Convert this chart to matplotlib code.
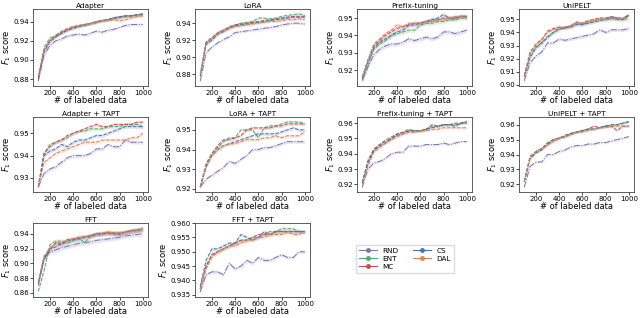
import matplotlib
matplotlib.use("Agg")
import matplotlib.pyplot as plt
from matplotlib.lines import Line2D
import numpy as np

x = [100, 150, 200, 250, 300, 350, 400, 450, 500, 550, 600, 650, 700, 750, 800, 850, 900, 950, 1000]
methods = ["RND", "ENT", "MC", "CS", "DAL"]
colors = {"RND": "#8172b3", "ENT": "#55a868", "MC": "#c44e52", "CS": "#4c72b0", "DAL": "#dd8452"}

titles = ["Adapter", "LoRA", "Prefix-tuning", "UniPELT",
          "Adapter + TAPT", "LoRA + TAPT", "Prefix-tuning + TAPT", "UniPELT + TAPT",
          "FFT", "FFT + TAPT"]

adapter = {
    "RND": [0.878, 0.905, 0.915, 0.920, 0.922, 0.925, 0.926, 0.927, 0.926, 0.928, 0.930, 0.929, 0.931, 0.932, 0.934, 0.936, 0.937, 0.937, 0.937],
    "ENT": [0.882, 0.913, 0.923, 0.925, 0.928, 0.931, 0.934, 0.935, 0.937, 0.938, 0.940, 0.941, 0.942, 0.943, 0.944, 0.945, 0.946, 0.947, 0.947],
    "MC":  [0.882, 0.910, 0.920, 0.925, 0.929, 0.932, 0.934, 0.936, 0.937, 0.938, 0.940, 0.941, 0.942, 0.944, 0.945, 0.946, 0.946, 0.947, 0.948],
    "CS":  [0.880, 0.908, 0.919, 0.924, 0.928, 0.931, 0.933, 0.935, 0.936, 0.938, 0.939, 0.941, 0.942, 0.944, 0.945, 0.946, 0.946, 0.947, 0.948],
    "DAL": [0.883, 0.911, 0.921, 0.926, 0.930, 0.933, 0.935, 0.936, 0.937, 0.938, 0.940, 0.941, 0.941, 0.942, 0.941, 0.942, 0.944, 0.945, 0.946],
}
lora = {
    "RND": [0.872, 0.905, 0.912, 0.917, 0.921, 0.924, 0.929, 0.930, 0.931, 0.932, 0.933, 0.934, 0.935, 0.936, 0.938, 0.939, 0.940, 0.940, 0.939],
    "ENT": [0.878, 0.917, 0.922, 0.928, 0.932, 0.936, 0.938, 0.940, 0.941, 0.942, 0.946, 0.946, 0.945, 0.946, 0.948, 0.949, 0.950, 0.951, 0.949],
    "MC":  [0.880, 0.918, 0.923, 0.929, 0.932, 0.935, 0.938, 0.939, 0.940, 0.941, 0.942, 0.943, 0.944, 0.945, 0.946, 0.947, 0.948, 0.948, 0.948],
    "CS":  [0.878, 0.915, 0.920, 0.927, 0.930, 0.934, 0.937, 0.938, 0.939, 0.940, 0.941, 0.942, 0.943, 0.944, 0.945, 0.946, 0.947, 0.947, 0.947],
    "DAL": [0.880, 0.916, 0.922, 0.928, 0.931, 0.934, 0.936, 0.937, 0.938, 0.939, 0.940, 0.941, 0.942, 0.942, 0.943, 0.944, 0.944, 0.945, 0.944],
}
prefix = {
    "RND": [0.914, 0.922, 0.929, 0.932, 0.934, 0.935, 0.935, 0.936, 0.938, 0.937, 0.938, 0.939, 0.938, 0.939, 0.942, 0.942, 0.941, 0.942, 0.943],
    "ENT": [0.914, 0.923, 0.932, 0.935, 0.937, 0.940, 0.941, 0.942, 0.943, 0.943, 0.946, 0.947, 0.947, 0.948, 0.948, 0.949, 0.949, 0.950, 0.950],
    "MC":  [0.916, 0.926, 0.934, 0.937, 0.940, 0.942, 0.944, 0.945, 0.946, 0.947, 0.947, 0.948, 0.949, 0.949, 0.950, 0.950, 0.950, 0.951, 0.951],
    "CS":  [0.915, 0.925, 0.933, 0.936, 0.938, 0.940, 0.942, 0.943, 0.946, 0.946, 0.947, 0.948, 0.949, 0.950, 0.952, 0.950, 0.950, 0.951, 0.951],
    "DAL": [0.916, 0.926, 0.935, 0.938, 0.941, 0.943, 0.946, 0.945, 0.947, 0.947, 0.947, 0.948, 0.948, 0.949, 0.949, 0.950, 0.951, 0.951, 0.950],
}
unipelt = {
    "RND": [0.903, 0.917, 0.922, 0.925, 0.932, 0.932, 0.935, 0.934, 0.935, 0.936, 0.937, 0.938, 0.939, 0.942, 0.940, 0.942, 0.942, 0.942, 0.943],
    "ENT": [0.906, 0.922, 0.929, 0.932, 0.937, 0.940, 0.942, 0.944, 0.945, 0.947, 0.946, 0.948, 0.949, 0.950, 0.950, 0.952, 0.951, 0.951, 0.953],
    "MC":  [0.907, 0.925, 0.931, 0.934, 0.941, 0.943, 0.944, 0.943, 0.945, 0.948, 0.947, 0.949, 0.950, 0.951, 0.951, 0.952, 0.951, 0.950, 0.953],
    "CS":  [0.907, 0.921, 0.928, 0.932, 0.936, 0.940, 0.943, 0.944, 0.944, 0.946, 0.946, 0.947, 0.948, 0.949, 0.950, 0.951, 0.950, 0.950, 0.954],
    "DAL": [0.907, 0.924, 0.931, 0.935, 0.940, 0.942, 0.944, 0.944, 0.945, 0.947, 0.947, 0.948, 0.949, 0.950, 0.950, 0.950, 0.950, 0.950, 0.950],
}
adapter_tapt = {
    "RND": [0.926, 0.932, 0.934, 0.935, 0.937, 0.939, 0.940, 0.940, 0.940, 0.941, 0.943, 0.943, 0.945, 0.944, 0.944, 0.947, 0.946, 0.946, 0.946],
    "ENT": [0.926, 0.941, 0.945, 0.946, 0.947, 0.948, 0.950, 0.951, 0.951, 0.952, 0.952, 0.952, 0.953, 0.953, 0.953, 0.954, 0.954, 0.954, 0.953],
    "MC":  [0.926, 0.941, 0.944, 0.946, 0.947, 0.949, 0.950, 0.951, 0.952, 0.953, 0.954, 0.953, 0.953, 0.954, 0.954, 0.954, 0.954, 0.955, 0.955],
    "CS":  [0.926, 0.940, 0.942, 0.943, 0.945, 0.944, 0.946, 0.947, 0.947, 0.948, 0.949, 0.949, 0.950, 0.951, 0.952, 0.953, 0.953, 0.953, 0.953],
    "DAL": [0.926, 0.937, 0.939, 0.941, 0.942, 0.943, 0.944, 0.945, 0.946, 0.946, 0.946, 0.947, 0.947, 0.947, 0.947, 0.947, 0.948, 0.948, 0.950],
}
lora_tapt = {
    "RND": [0.921, 0.925, 0.927, 0.929, 0.931, 0.934, 0.933, 0.935, 0.937, 0.940, 0.940, 0.941, 0.941, 0.942, 0.943, 0.944, 0.944, 0.944, 0.944],
    "ENT": [0.921, 0.933, 0.938, 0.941, 0.944, 0.946, 0.946, 0.950, 0.950, 0.950, 0.946, 0.951, 0.952, 0.952, 0.953, 0.954, 0.954, 0.954, 0.953],
    "MC":  [0.921, 0.932, 0.938, 0.942, 0.945, 0.945, 0.946, 0.947, 0.950, 0.951, 0.951, 0.951, 0.951, 0.952, 0.952, 0.953, 0.953, 0.953, 0.953],
    "CS":  [0.921, 0.931, 0.937, 0.940, 0.942, 0.943, 0.944, 0.945, 0.946, 0.947, 0.948, 0.948, 0.948, 0.948, 0.949, 0.950, 0.951, 0.950, 0.950],
    "DAL": [0.921, 0.932, 0.937, 0.940, 0.942, 0.943, 0.943, 0.944, 0.945, 0.945, 0.945, 0.946, 0.946, 0.947, 0.946, 0.947, 0.947, 0.947, 0.949],
}
prefix_tapt = {
    "RND": [0.918, 0.930, 0.934, 0.935, 0.937, 0.940, 0.941, 0.941, 0.945, 0.945, 0.945, 0.946, 0.946, 0.946, 0.947, 0.946, 0.947, 0.948, 0.948],
    "ENT": [0.921, 0.936, 0.943, 0.946, 0.949, 0.951, 0.953, 0.954, 0.956, 0.955, 0.955, 0.956, 0.958, 0.958, 0.959, 0.959, 0.959, 0.960, 0.961],
    "MC":  [0.921, 0.935, 0.943, 0.946, 0.948, 0.950, 0.953, 0.954, 0.955, 0.955, 0.955, 0.956, 0.959, 0.958, 0.959, 0.959, 0.960, 0.960, 0.960],
    "CS":  [0.921, 0.934, 0.942, 0.945, 0.947, 0.950, 0.952, 0.953, 0.955, 0.955, 0.955, 0.956, 0.957, 0.958, 0.959, 0.959, 0.958, 0.960, 0.961],
    "DAL": [0.920, 0.932, 0.941, 0.944, 0.947, 0.949, 0.951, 0.953, 0.954, 0.954, 0.955, 0.955, 0.956, 0.956, 0.957, 0.957, 0.957, 0.957, 0.957],
}
unipelt_tapt = {
    "RND": [0.918, 0.932, 0.935, 0.935, 0.940, 0.940, 0.942, 0.943, 0.945, 0.946, 0.946, 0.947, 0.947, 0.948, 0.948, 0.949, 0.950, 0.951, 0.952],
    "ENT": [0.922, 0.939, 0.942, 0.944, 0.948, 0.950, 0.951, 0.953, 0.954, 0.955, 0.956, 0.957, 0.957, 0.958, 0.959, 0.959, 0.960, 0.961, 0.962],
    "MC":  [0.922, 0.938, 0.942, 0.944, 0.947, 0.950, 0.951, 0.952, 0.954, 0.955, 0.956, 0.957, 0.959, 0.958, 0.959, 0.959, 0.956, 0.959, 0.959],
    "CS":  [0.922, 0.937, 0.941, 0.943, 0.947, 0.949, 0.951, 0.952, 0.954, 0.955, 0.956, 0.957, 0.957, 0.958, 0.959, 0.960, 0.960, 0.961, 0.962],
    "DAL": [0.922, 0.938, 0.942, 0.944, 0.946, 0.949, 0.951, 0.952, 0.953, 0.955, 0.955, 0.956, 0.957, 0.958, 0.958, 0.959, 0.959, 0.959, 0.959],
}
fft = {
    "RND": [0.870, 0.908, 0.915, 0.918, 0.921, 0.923, 0.925, 0.927, 0.928, 0.929, 0.931, 0.932, 0.933, 0.934, 0.935, 0.937, 0.938, 0.939, 0.940],
    "ENT": [0.862, 0.890, 0.925, 0.930, 0.930, 0.927, 0.931, 0.934, 0.928, 0.937, 0.939, 0.940, 0.941, 0.940, 0.941, 0.942, 0.943, 0.944, 0.946],
    "MC":  [0.875, 0.908, 0.918, 0.928, 0.925, 0.932, 0.933, 0.935, 0.936, 0.937, 0.940, 0.940, 0.942, 0.941, 0.941, 0.942, 0.944, 0.945, 0.947],
    "CS":  [0.872, 0.905, 0.920, 0.922, 0.927, 0.930, 0.932, 0.933, 0.935, 0.937, 0.939, 0.940, 0.941, 0.940, 0.939, 0.942, 0.944, 0.945, 0.946],
    "DAL": [0.874, 0.910, 0.921, 0.926, 0.929, 0.931, 0.933, 0.935, 0.936, 0.938, 0.940, 0.941, 0.942, 0.941, 0.941, 0.942, 0.944, 0.945, 0.946],
}
fft_tapt = {
    "RND": [0.936, 0.942, 0.943, 0.943, 0.942, 0.946, 0.944, 0.945, 0.947, 0.946, 0.948, 0.947, 0.947, 0.948, 0.949, 0.948, 0.948, 0.950, 0.950],
    "ENT": [0.937, 0.945, 0.949, 0.950, 0.951, 0.952, 0.953, 0.954, 0.954, 0.955, 0.955, 0.956, 0.957, 0.957, 0.958, 0.958, 0.958, 0.957, 0.957],
    "MC":  [0.937, 0.945, 0.949, 0.950, 0.951, 0.952, 0.953, 0.954, 0.954, 0.955, 0.956, 0.956, 0.956, 0.957, 0.957, 0.957, 0.957, 0.957, 0.957],
    "CS":  [0.938, 0.947, 0.951, 0.951, 0.952, 0.953, 0.953, 0.956, 0.955, 0.954, 0.955, 0.957, 0.956, 0.957, 0.957, 0.957, 0.957, 0.957, 0.957],
    "DAL": [0.937, 0.944, 0.948, 0.950, 0.951, 0.952, 0.952, 0.953, 0.954, 0.954, 0.955, 0.955, 0.956, 0.956, 0.956, 0.957, 0.956, 0.956, 0.957],
}
panels = [adapter, lora, prefix, unipelt, adapter_tapt, lora_tapt, prefix_tapt, unipelt_tapt, fft, fft_tapt]
band = [0.0015, 0.0015, 0.0012, 0.0012, 0.0008, 0.0008, 0.0008, 0.0008, 0.003, 0.0006]
yticks = [[0.88, 0.90, 0.92, 0.94], [0.88, 0.90, 0.92, 0.94], [0.92, 0.93, 0.94, 0.95],
          [0.90, 0.91, 0.92, 0.93, 0.94, 0.95], [0.93, 0.94, 0.95], [0.92, 0.93, 0.94, 0.95],
          [0.92, 0.93, 0.94, 0.95, 0.96], [0.92, 0.93, 0.94, 0.95, 0.96],
          [0.86, 0.88, 0.90, 0.92, 0.94], [0.935, 0.940, 0.945, 0.950, 0.955, 0.960]]
yfmt = ["%.2f"] * 9 + ["%.3f"]

W, H = 640, 318
fig = plt.figure(figsize=(6.4, 3.18), dpi=100)
lefts = [33, 195, 357, 519]
tops = [9, 117, 223]
heights = [77, 75, 74]
aw = 115

for i, data in enumerate(panels):
    r, c = divmod(i, 4)
    ax = fig.add_axes([lefts[c] / W, 1 - (tops[r] + heights[r]) / H, aw / W, heights[r] / H])
    for m in methods:
        y = np.array(data[m])
        ls = "-." if m == "RND" else "--"
        ax.plot(x, y, ls, color=colors[m], lw=0.7)
        ax.fill_between(x, y - band[i], y + band[i], color=colors[m], alpha=0.18, lw=0)
    ax.set_title(titles[i], fontsize=5.3, pad=1.0)
    ax.set_xlabel("# of labeled data", fontsize=6.0, labelpad=0.2)
    ax.set_ylabel("$F_1$ score", fontsize=6.0, labelpad=0.4)
    ax.set_xticks([200, 400, 600, 800, 1000])
    ax.set_yticks(yticks[i])
    ax.set_yticklabels([yfmt[i] % v for v in yticks[i]])
    ax.tick_params(labelsize=5.0, length=2, width=0.5, pad=1)
    for s in ax.spines.values():
        s.set_linewidth(0.6)
        s.set_color("#444444")
    ax.set_xlim(55, 1045)

handles = [Line2D([0], [0], color=colors[m], lw=0.8, marker="o", ms=2.5) for m in methods]
fig.legend(handles, methods, loc="upper left", bbox_to_anchor=(352 / W, 1 - 241 / H),
           ncol=2, fontsize=5.2, frameon=True, handlelength=2.5,
           borderpad=0.4, labelspacing=0.3, columnspacing=2.0, framealpha=1,
           edgecolor="#dddddd")

fig.savefig("out.png", dpi=100)
